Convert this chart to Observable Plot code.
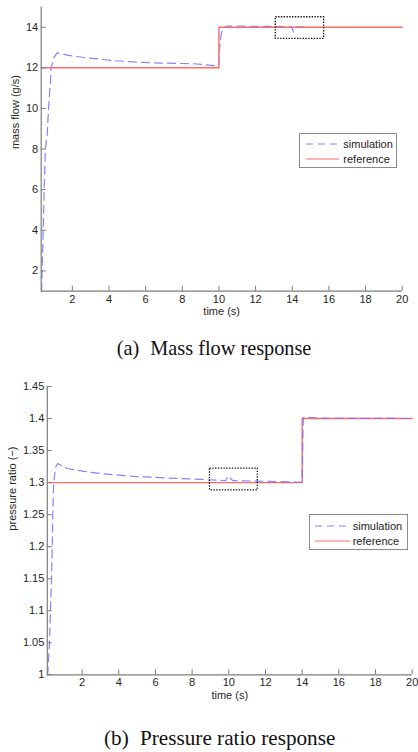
<!DOCTYPE html>
<html>
<head>
<meta charset="utf-8">
<script src="https://cdn.jsdelivr.net/npm/d3@7"></script>
<script src="https://cdn.jsdelivr.net/npm/@observablehq/plot@0.6"></script>
<style>
  html, body { margin: 0; padding: 0; background: #fff; }
  #page { position: relative; width: 418px; height: 752px; overflow: hidden; background: #fff; }
  .chart { position: absolute; left: 0; }
  .caption { position: absolute; font-family: "Liberation Serif", "Times New Roman", serif; font-size: 20px; line-height: 24px; color: #111; white-space: nowrap; }
  .caption .tag { margin-right: 6px; }
  .legend { position: absolute; border: 1px solid #8a8a8a; background: #fff; font-family: "Liberation Sans", Arial, sans-serif; font-size: 11px; color: #222; box-sizing: border-box; }
  .legend .row { position: absolute; left: 0; height: 14px; line-height: 14px; white-space: nowrap; }
  .legend svg { position: absolute; top: 0; }
  .legend span { position: absolute; top: 0; }
</style>
</head>
<body>
<div id="page"></div>
<script>
// ---------- data: chart (a) mass flow ----------
const timeSimA = [0.32, 0.35, 0.41, 0.46, 0.53, 0.63, 0.70, 0.81, 0.84, 0.99, 1.17, 1.81, 2.54, 3.35, 4.17, 5.54, 7.0, 8.63, 9.72, 9.99, 10.04, 10.12, 10.26, 10.45, 11.5, 12.5, 13.5, 13.95, 14.07, 14.2, 14.6];
const massSim    = [1.0, 2.0, 4.0, 6.0, 8.0, 8.75, 10.0, 11.4, 12.0, 12.5, 12.74, 12.61, 12.52, 12.44, 12.36, 12.28, 12.23, 12.2, 12.11, 12.11, 13.01, 13.67, 14.0, 14.06, 14.05, 14.04, 14.03, 14.02, 13.76, 14.02, 14.02];
const timeRefA = [0.3, 10, 10, 20];
const massRef  = [12, 12, 14, 14];
const xTicksA = [2, 4, 6, 8, 10, 12, 14, 16, 18, 20];
const yTicksA = [2, 4, 6, 8, 10, 12, 14];
const zoomBoxA = {x1: 13.1, x2: 15.74, y1: 13.43, y2: 14.49};

// ---------- data: chart (b) pressure ratio ----------
const timeSimB = [0.12, 0.22, 0.27, 0.33, 0.37, 0.40, 0.45, 0.55, 0.67, 1.19, 2.09, 3.0, 4.82, 6.64, 8.46, 9.82, 9.95, 10.22, 12.0, 13.5, 13.98, 14.0, 14.06, 14.19, 15.0, 20.0];
const prSim    = [1.0, 1.05, 1.1, 1.15, 1.2, 1.25, 1.3, 1.324, 1.3296, 1.322, 1.3176, 1.314, 1.3098, 1.3072, 1.3051, 1.303, 1.3105, 1.3031, 1.302, 1.301, 1.3005, 1.3036, 1.401, 1.402, 1.4005, 1.4];
const timeRefB = [0.1, 14, 14, 20];
const prRef    = [1.3, 1.3, 1.4, 1.4];
const xTicksB = [2, 4, 6, 8, 10, 12, 14, 16, 18, 20];
const yTicksB = [1, 1.05, 1.1, 1.15, 1.2, 1.25, 1.3, 1.35, 1.4, 1.45];
const zoomBoxB = {x1: 8.97, x2: 11.58, y1: 1.288, y2: 1.3218};

const seriesNames = ["simulation", "reference"];
const captionA = ["(a)", "Mass flow response"];
const captionB = ["(b)", "Pressure ratio response"];

// ---------- styling ----------
const BLUE = "#6e6eff";
const RED = "#ff6a6a";
const AXIS = "#7d7d7d";
const FONT = "'Liberation Sans', Arial, sans-serif";

function makeChart(cfg) {
  const frameW = cfg.width - cfg.marginLeft - cfg.marginRight;
  const frameH = cfg.height - cfg.marginTop - cfg.marginBottom;
  const sim = cfg.simX.map((x, i) => ({x, y: cfg.simY[i]}));
  const ref = cfg.refX.map((x, i) => ({x, y: cfg.refY[i]}));
  const simMark = Plot.line(sim, {x: "x", y: "y", stroke: BLUE, strokeWidth: 1.2, strokeDasharray: "8,5", strokeOpacity: 0.85});
  const refMark = Plot.line(ref, {x: "x", y: "y", stroke: RED, strokeWidth: 1.4});
  const lines = cfg.simOnTop ? [refMark, simMark] : [simMark, refMark];
  return Plot.plot({
    width: cfg.width, height: cfg.height,
    marginLeft: cfg.marginLeft, marginRight: cfg.marginRight,
    marginTop: cfg.marginTop, marginBottom: cfg.marginBottom,
    style: {fontFamily: FONT, fontSize: "11px", color: "#262626", background: "white", overflow: "visible"},
    x: {domain: cfg.xDomain, label: null},
    y: {domain: cfg.yDomain, label: null},
    marks: [
      ...lines,
      Plot.rect([cfg.box], {x1: "x1", x2: "x2", y1: "y1", y2: "y2", fill: "none", stroke: "#111", strokeWidth: 1.3, strokeDasharray: "1.4,1.4"}),
      // inward ticks
      Plot.tickX(cfg.xTicks, {x: d => d, stroke: AXIS, insetTop: frameH - 5}),
      Plot.tickY(cfg.yTicks, {y: d => d, stroke: AXIS, insetRight: frameW - 5}),
      // axis lines
      Plot.ruleX([cfg.xDomain[0]], {stroke: AXIS, strokeWidth: 1.2}),
      Plot.ruleY([cfg.yDomain[0]], {stroke: AXIS, strokeWidth: 1.2}),
      Plot.axisX(cfg.xTicks, {tickSize: 0, tickPadding: 3.5, tickFormat: d => String(d), fill: "#262626"}),
      Plot.axisY(cfg.yTicks, {tickSize: 0, tickPadding: 3, tickFormat: d => String(d), fill: "#262626"}),
      Plot.text([cfg.xLabel], {frameAnchor: "bottom", dy: 24, fill: "#262626"}),
      Plot.text([cfg.yLabel], {frameAnchor: "left", rotate: -90, dx: cfg.yLabelDx, fill: "#262626"})
    ]
  });
}

function makeLegend(pos) {
  const div = document.createElement("div");
  div.className = "legend";
  Object.assign(div.style, {left: pos.left + "px", top: pos.top + "px", width: pos.width + "px", height: pos.height + "px"});
  const styles = [
    {stroke: BLUE, dash: "7,5", opacity: 0.85},
    {stroke: RED, dash: null, opacity: 1}
  ];
  seriesNames.forEach((name, i) => {
    const row = document.createElement("div");
    row.className = "row";
    row.style.top = (pos.rowY[i] - pos.top - 1 - 7) + "px";
    row.style.width = "100%";
    const svg = d3.create("svg").attr("width", pos.lineLen).attr("height", 14)
      .style("left", (pos.lineX - pos.left - 1) + "px");
    svg.append("line").attr("x1", 0).attr("x2", pos.lineLen).attr("y1", 7).attr("y2", 7)
      .attr("stroke", styles[i].stroke).attr("stroke-width", 1.2)
      .attr("stroke-opacity", styles[i].opacity)
      .attr("stroke-dasharray", styles[i].dash);
    row.appendChild(svg.node());
    const span = document.createElement("span");
    span.textContent = name;
    span.style.left = (pos.textX - pos.left - 1) + "px";
    row.appendChild(span);
    div.appendChild(row);
  });
  return div;
}

function makeCaption(parts, left, top, size) {
  const div = document.createElement("div");
  div.className = "caption";
  div.style.left = left + "px";
  div.style.top = top + "px";
  div.style.fontSize = size + "px";
  const tag = document.createElement("span");
  tag.className = "tag";
  tag.textContent = parts[0];
  div.appendChild(tag);
  div.appendChild(document.createTextNode(" " + parts[1]));
  return div;
}

const page = document.getElementById("page");

const chartA = makeChart({
  width: 418, height: 325, marginLeft: 40.7, marginRight: 16.3, marginTop: 6.4, marginBottom: 34.3,
  xDomain: [0.3, 20], yDomain: [1, 15],
  simX: timeSimA, simY: massSim, refX: timeRefA, refY: massRef, simOnTop: false,
  xTicks: xTicksA, yTicks: yTicksA, box: zoomBoxA,
  xLabel: "time (s)", yLabel: "mass flow (g/s)", yLabelDx: -25.7
});
chartA.classList.add("chart");
chartA.style.top = "0px";
page.appendChild(chartA);

const chartB = makeChart({
  width: 418, height: 334, marginLeft: 46.8, marginRight: 6.3, marginTop: 16, marginBottom: 29.7,
  xDomain: [0.1, 20], yDomain: [1, 1.45],
  simX: timeSimB, simY: prSim, refX: timeRefB, refY: prRef, simOnTop: true,
  xTicks: xTicksB, yTicks: yTicksB, box: zoomBoxB,
  xLabel: "time (s)", yLabel: "pressure ratio (\u2212)", yLabelDx: -34.5
});
chartB.classList.add("chart");
chartB.style.top = "370px";
page.appendChild(chartB);

page.appendChild(makeLegend({left: 299.3, top: 132.7, width: 97.4, height: 35.6, rowY: [144, 159.3], lineX: 306, lineLen: 33.3, textX: 343.3}));
page.appendChild(makeLegend({left: 309, top: 514.3, width: 98.7, height: 35.7, rowY: [526, 541], lineX: 315, lineLen: 35, textX: 352.7}));

page.appendChild(makeCaption(captionA, 116.7, 336, 20.3));
page.appendChild(makeCaption(captionB, 104, 725.5, 21.2));
</script>
</body>
</html>
